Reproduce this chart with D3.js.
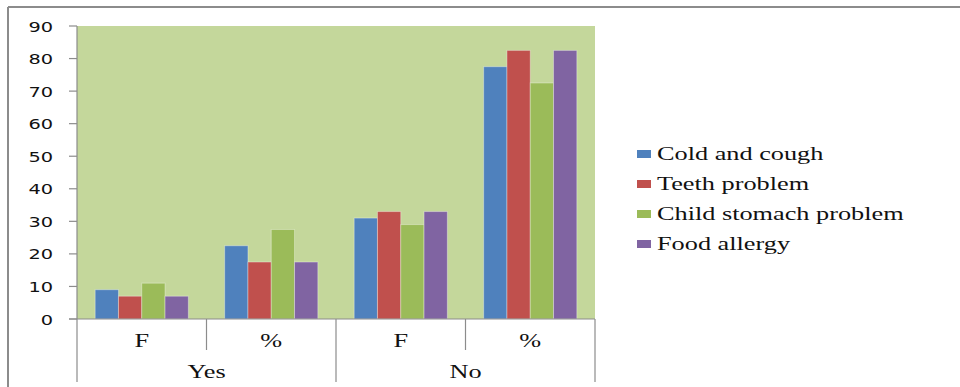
<!DOCTYPE html>
<html><head><meta charset="utf-8">
<script src="https://cdn.jsdelivr.net/npm/d3@7"></script>
<style>body{margin:0;background:#fff}svg{display:block}</style>
</head><body>
<svg id="c" width="960" height="387"></svg>
<script>
const groups = ["Yes", "No"];
const subcats = ["F", "%"];
const seriesNames = ["Cold and cough", "Teeth problem", "Child stomach problem", "Food allergy"];
const colors = ["#4F81BD", "#C0504D", "#9BBB59", "#8064A2"];
const coldCough = [9, 22.5, 31, 77.5];
const teeth = [7, 17.5, 33, 82.5];
const stomach = [11, 27.5, 29, 72.5];
const allergy = [7, 17.5, 33, 82.5];
const yTicks = [0, 10, 20, 30, 40, 50, 60, 70, 80, 90];

const series = [coldCough, teeth, stomach, allergy];
const cats = [];
groups.forEach(g => subcats.forEach(s => cats.push(g + "|" + s)));

const svg = d3.select("#c");
const L = 77, R = 595, T = 26, B = 319;
const SX = 1.46;

// frame
svg.append("line").attr("x1", 8).attr("x2", 960).attr("y1", 7).attr("y2", 7).attr("stroke", "#8c8c8c").attr("stroke-width", 2);
svg.append("line").attr("x1", 8).attr("x2", 8).attr("y1", 7).attr("y2", 387).attr("stroke", "#8c8c8c").attr("stroke-width", 2);

const x = d3.scaleBand().domain(cats).range([L, R]).paddingInner(0).paddingOuter(0);
const y = d3.scaleLinear().domain([0, 90]).range([B, T]);
const xs = d3.scaleBand().domain(d3.range(4)).range([0, x.bandwidth()]).paddingInner(0).paddingOuter(0.78);

svg.append("rect").attr("x", L).attr("y", T).attr("width", R - L).attr("height", B - T).attr("fill", "#C4D79B");

// bars
const g = svg.append("g");
cats.forEach((c, ci) => {
  series.forEach((s, si) => {
    g.append("rect")
      .attr("x", x(c) + xs(si))
      .attr("y", y(s[ci]))
      .attr("width", xs.bandwidth())
      .attr("height", y(0) - y(s[ci]))
      .attr("fill", colors[si])
      .attr("stroke", "rgba(255,255,255,0.35)")
      .attr("stroke-width", 1);
  });
});

// y axis
const axisColor = "#8c8c8c";
svg.append("line").attr("x1", L).attr("x2", L).attr("y1", T).attr("y2", 382).attr("stroke", axisColor).attr("stroke-width", 1.2);
svg.append("line").attr("x1", 69).attr("x2", R).attr("y1", B).attr("y2", B).attr("stroke", axisColor).attr("stroke-width", 1.2);
yTicks.forEach(t => {
  svg.append("line").attr("x1", 69).attr("x2", L).attr("y1", y(t)).attr("y2", y(t)).attr("stroke", axisColor).attr("stroke-width", 1.2);
  svg.append("text").attr("transform", `translate(53,${y(t) + 5.5}) scale(1.38,1)`)
    .attr("text-anchor", "end").attr("font-family", "DejaVu Sans, Verdana, sans-serif")
    .attr("font-size", 14).attr("fill", "#111").text(t);
});

// x category dividers
cats.forEach((c, ci) => {
  const xr = x(c) + x.bandwidth();
  const outer = (ci % subcats.length) === subcats.length - 1;
  svg.append("line").attr("x1", xr).attr("x2", xr).attr("y1", B).attr("y2", outer ? 382 : 350)
    .attr("stroke", axisColor).attr("stroke-width", 1.2);
  svg.append("text").attr("transform", `translate(${x(c) + x.bandwidth() / 2},347) scale(${SX},1)`)
    .attr("text-anchor", "middle").attr("font-family", "Liberation Serif, Times New Roman, serif")
    .attr("font-size", 18).attr("fill", "#111").text(c.split("|")[1]);
});
groups.forEach((gname, gi) => {
  const x0 = x(gname + "|" + subcats[0]);
  const x1 = x(gname + "|" + subcats[subcats.length - 1]) + x.bandwidth();
  svg.append("text").attr("transform", `translate(${(x0 + x1) / 2},378) scale(${SX},1)`)
    .attr("text-anchor", "middle").attr("font-family", "Liberation Serif, Times New Roman, serif")
    .attr("font-size", 18).attr("fill", "#111").text(gname);
});

// legend
seriesNames.forEach((n, i) => {
  const ly = 150 + i * 30;
  svg.append("rect").attr("x", 637).attr("y", ly).attr("width", 14).attr("height", 8).attr("fill", colors[i]);
  svg.append("text").attr("transform", `translate(657,${ly + 10}) scale(${SX},1)`)
    .attr("font-family", "Liberation Serif, Times New Roman, serif")
    .attr("font-size", 18).attr("fill", "#111").text(n);
});
</script>
</body></html>
